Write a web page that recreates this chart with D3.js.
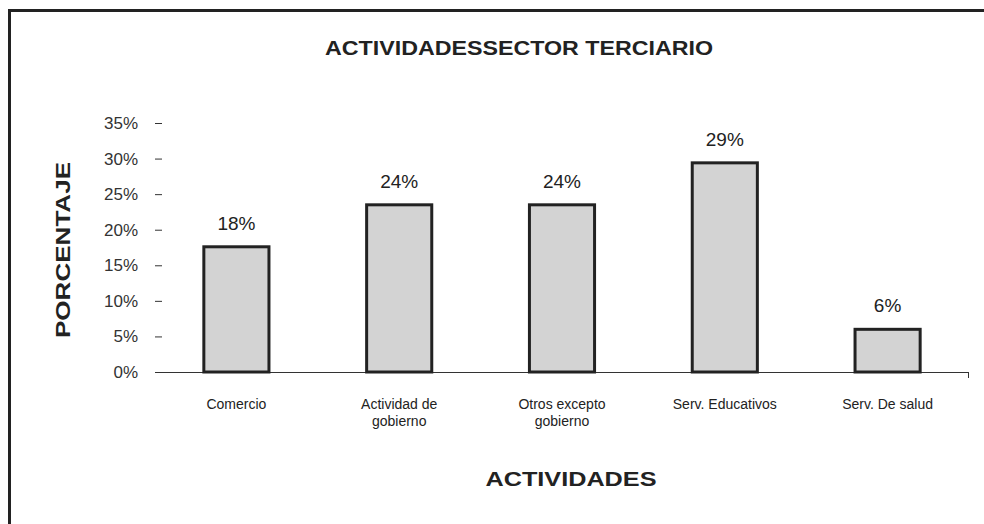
<!DOCTYPE html>
<html>
<head>
<meta charset="utf-8">
<script src="https://cdn.jsdelivr.net/npm/d3@7/dist/d3.min.js"></script>
<style>
  body { margin: 0; background: #fff; }
  svg { font-family: "Liberation Sans", Arial, sans-serif; }
</style>
</head>
<body>
<svg id="chart" width="984" height="524"></svg>
<script>
// data
const categories = ["Comercio", "Actividad de gobierno", "Otros excepto gobierno", "Serv. Educativos", "Serv. De salud"];
const values = [17.6, 23.5, 23.5, 29.4, 6.0];
const valueLabels = ["18%", "24%", "24%", "29%", "6%"];
const yTicks = [0, 5, 10, 15, 20, 25, 30, 35];

const svg = d3.select("#chart");

// outer frame (runs off the right / bottom edge)
svg.append("rect")
  .attr("x", 9.5).attr("y", 10.5)
  .attr("width", 1000).attr("height", 600)
  .attr("fill", "none").attr("stroke", "#222").attr("stroke-width", 3);

const x = d3.scaleBand().domain(categories).range([155, 969])
  .paddingInner(0.6).paddingOuter(0.3);
const y = d3.scaleLinear().domain([0, 35]).range([372, 123]);

// y axis: only tick dashes, no line
const yAxis = svg.append("g").attr("transform", "translate(162,0)")
  .call(d3.axisLeft(y).tickValues(yTicks).tickFormat(d => d + "%").tickSize(7).tickPadding(17));
yAxis.select(".domain").remove();
yAxis.selectAll("line").attr("stroke", "#333");
yAxis.selectAll("text").attr("font-size", 17).attr("fill", "#333")
  .attr("font-family", "Liberation Sans, Arial, sans-serif");

// x axis baseline
svg.append("line")
  .attr("x1", 155).attr("x2", x.range()[1])
  .attr("y1", y(0) + 0.5).attr("y2", y(0) + 0.5)
  .attr("stroke", "#333").attr("stroke-width", 1);
svg.append("line")
  .attr("x1", x.range()[1] - 0.5).attr("x2", x.range()[1] - 0.5)
  .attr("y1", y(0)).attr("y2", y(0) + 6)
  .attr("stroke", "#333");

// bars
svg.selectAll("rect.bar")
  .data(values)
  .join("rect")
  .attr("class", "bar")
  .attr("x", (d, i) => x(categories[i]))
  .attr("width", x.bandwidth())
  .attr("y", d => y(d))
  .attr("height", d => y(0) - y(d))
  .attr("fill", "#d3d3d3")
  .attr("stroke", "#222")
  .attr("stroke-width", 3);

// value labels
svg.selectAll("text.val")
  .data(values)
  .join("text")
  .attr("class", "val")
  .attr("x", (d, i) => x(categories[i]) + x.bandwidth() / 2)
  .attr("y", d => y(d) - 17)
  .attr("text-anchor", "middle")
  .attr("font-size", 19)
  .attr("fill", "#222")
  .text((d, i) => valueLabels[i]);

// category labels, wrapped
const catLines = [["Comercio"], ["Actividad de", "gobierno"], ["Otros excepto", "gobierno"], ["Serv. Educativos"], ["Serv. De salud"]];
svg.selectAll("text.cat")
  .data(categories)
  .join("text")
  .attr("class", "cat")
  .attr("text-anchor", "middle")
  .attr("font-size", 14)
  .attr("fill", "#222")
  .each(function (d, i) {
    const t = d3.select(this);
    catLines[i].forEach((ln, j) => {
      t.append("tspan")
        .attr("x", x(d) + x.bandwidth() / 2)
        .attr("y", 409 + j * 17)
        .text(ln);
    });
  });

// titles
svg.append("text")
  .attr("x", 519).attr("y", 55)
  .attr("text-anchor", "middle")
  .attr("font-size", 20).attr("font-weight", "bold").attr("fill", "#222")
  .attr("textLength", 388).attr("lengthAdjust", "spacingAndGlyphs")
  .text("ACTIVIDADESSECTOR TERCIARIO");

svg.append("text")
  .attr("x", 571).attr("y", 486)
  .attr("text-anchor", "middle")
  .attr("font-size", 21).attr("font-weight", "bold").attr("fill", "#222")
  .attr("textLength", 171).attr("lengthAdjust", "spacingAndGlyphs")
  .text("ACTIVIDADES");

svg.append("text")
  .attr("transform", "translate(70,250) rotate(-90)")
  .attr("text-anchor", "middle")
  .attr("font-size", 21).attr("font-weight", "bold").attr("fill", "#222")
  .attr("textLength", 176).attr("lengthAdjust", "spacingAndGlyphs")
  .text("PORCENTAJE");
</script>
</body>
</html>
